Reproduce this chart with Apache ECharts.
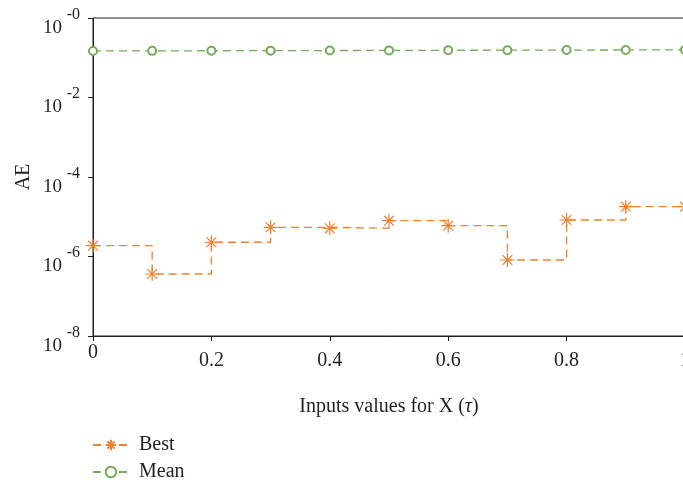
<!DOCTYPE html>
<html><head><meta charset="utf-8">
<script src="https://cdn.jsdelivr.net/npm/echarts@6/dist/echarts.min.js"></script>
<style>html,body{margin:0;padding:0;background:#fff}#c{width:683px;height:483px}</style>
</head><body><div id="c"></div>
<script>
const xValues = [0, 0.1, 0.2, 0.3, 0.4, 0.5, 0.6, 0.7, 0.8, 0.9, 1.0];
const bestValues = [1.87e-6, 3.63e-7, 2.28e-6, 5.43e-6, 5.12e-6, 7.96e-6, 5.96e-6, 8.16e-7, 8.28e-6, 1.79e-5, 1.79e-5];
const meanValues = [0.148, 0.149, 0.150, 0.151, 0.152, 0.153, 0.154, 0.155, 0.156, 0.157, 0.158];
const xTickLabels = ['0', '0.2', '0.4', '0.6', '0.8', '1'];
const seriesNames = ['Best', 'Mean'];

const ORANGE = '#F0812E';
const GREEN = '#74AD55';
const TXT = '#231f20';
const FONT = '"Liberation Serif", "DejaVu Serif", serif';
const asterisk = 'path://M0,-10L0,10M-10,0L10,0M-7,-7L7,7M-7,7L7,-7';

const chart = echarts.init(document.getElementById('c'));
chart.setOption({
  animation: false,
  backgroundColor: '#fff',
  textStyle: { fontFamily: FONT, color: TXT },
  grid: { left: 93, top: 18, width: 592, height: 318, show: true, borderColor: TXT, borderWidth: 1, outerBoundsMode: 'none', containLabel: false },
  legend: {
    orient: 'vertical', left: 92, top: 435, padding: 0, itemWidth: 36, itemHeight: 13, itemGap: 7,
    textStyle: { fontFamily: FONT, fontSize: 20, lineHeight: 20, color: TXT, padding: [0, 0, 0, 5] },
    data: seriesNames
  },
  xAxis: {
    type: 'value', min: 0, max: 1, interval: 0.2,
    name: 'Inputs values for X ({i|τ})', nameLocation: 'middle', nameGap: 61, nameMoveOverlap: false,
    nameTextStyle: { fontFamily: FONT, fontSize: 20, lineHeight: 20, color: TXT, rich: { i: { fontFamily: FONT, fontStyle: 'italic', fontSize: 20, lineHeight: 20, color: TXT } } },
    axisLine: { show: true, lineStyle: { color: TXT, width: 1 } },
    axisTick: { show: true, length: 5, lineStyle: { color: TXT } },
    axisLabel: {
      margin: 7,
      formatter: function (v) {
        const i = Math.round(v / 0.2);
        const t = xTickLabels[i] !== undefined ? xTickLabels[i] : '';
        return i === 0 ? '{n|' + t + '}' : '{e| }\n{n|' + t + '}';
      },
      rich: {
        n: { fontFamily: FONT, fontSize: 20, lineHeight: 20, color: TXT },
        e: { fontFamily: FONT, fontSize: 4, lineHeight: 8, color: TXT }
      }
    },
    splitLine: { show: false }
  },
  yAxis: {
    type: 'log', logBase: 10, min: 1e-8, max: 1, interval: 2,
    name: 'AE', nameLocation: 'middle', nameGap: 59, nameMoveOverlap: false,
    nameTextStyle: { fontFamily: FONT, fontSize: 20, lineHeight: 20, color: TXT },
    axisLine: { show: true, lineStyle: { color: TXT, width: 1 } },
    axisTick: { show: true, length: 5, lineStyle: { color: TXT } },
    minorTick: { show: false },
    splitLine: { show: false },
    axisLabel: {
      margin: 13,
      formatter: function (v) {
        const e = Math.round(Math.log10(v));
        const s = e === 0 ? '-0' : String(e);
        return '{s|' + s + '}\n{b|10}';
      },
      rich: {
        b: { fontFamily: FONT, fontSize: 19, color: TXT, lineHeight: 7, width: 37, align: 'left' },
        s: { fontFamily: FONT, fontSize: 16, color: TXT, lineHeight: 20, width: 37, align: 'right' }
      }
    }
  },
  series: [
    {
      name: seriesNames[0], type: 'line', step: 'end',
      data: xValues.map((x, i) => [x, bestValues[i]]),
      symbol: asterisk, symbolSize: 14, showSymbol: true,
      lineStyle: { color: ORANGE, width: 1.3, type: [8, 5] },
      itemStyle: { color: ORANGE, borderColor: ORANGE, borderWidth: 1.2 },
      clip: false, z: 3
    },
    {
      name: seriesNames[1], type: 'line',
      data: xValues.map((x, i) => [x, meanValues[i]]),
      symbol: 'emptyCircle', symbolSize: 8, showSymbol: true,
      lineStyle: { color: GREEN, width: 1.3, type: [8, 5] },
      itemStyle: { color: GREEN, borderColor: GREEN, borderWidth: 1.3 },
      clip: false, z: 3
    }
  ]
});
</script></body></html>
